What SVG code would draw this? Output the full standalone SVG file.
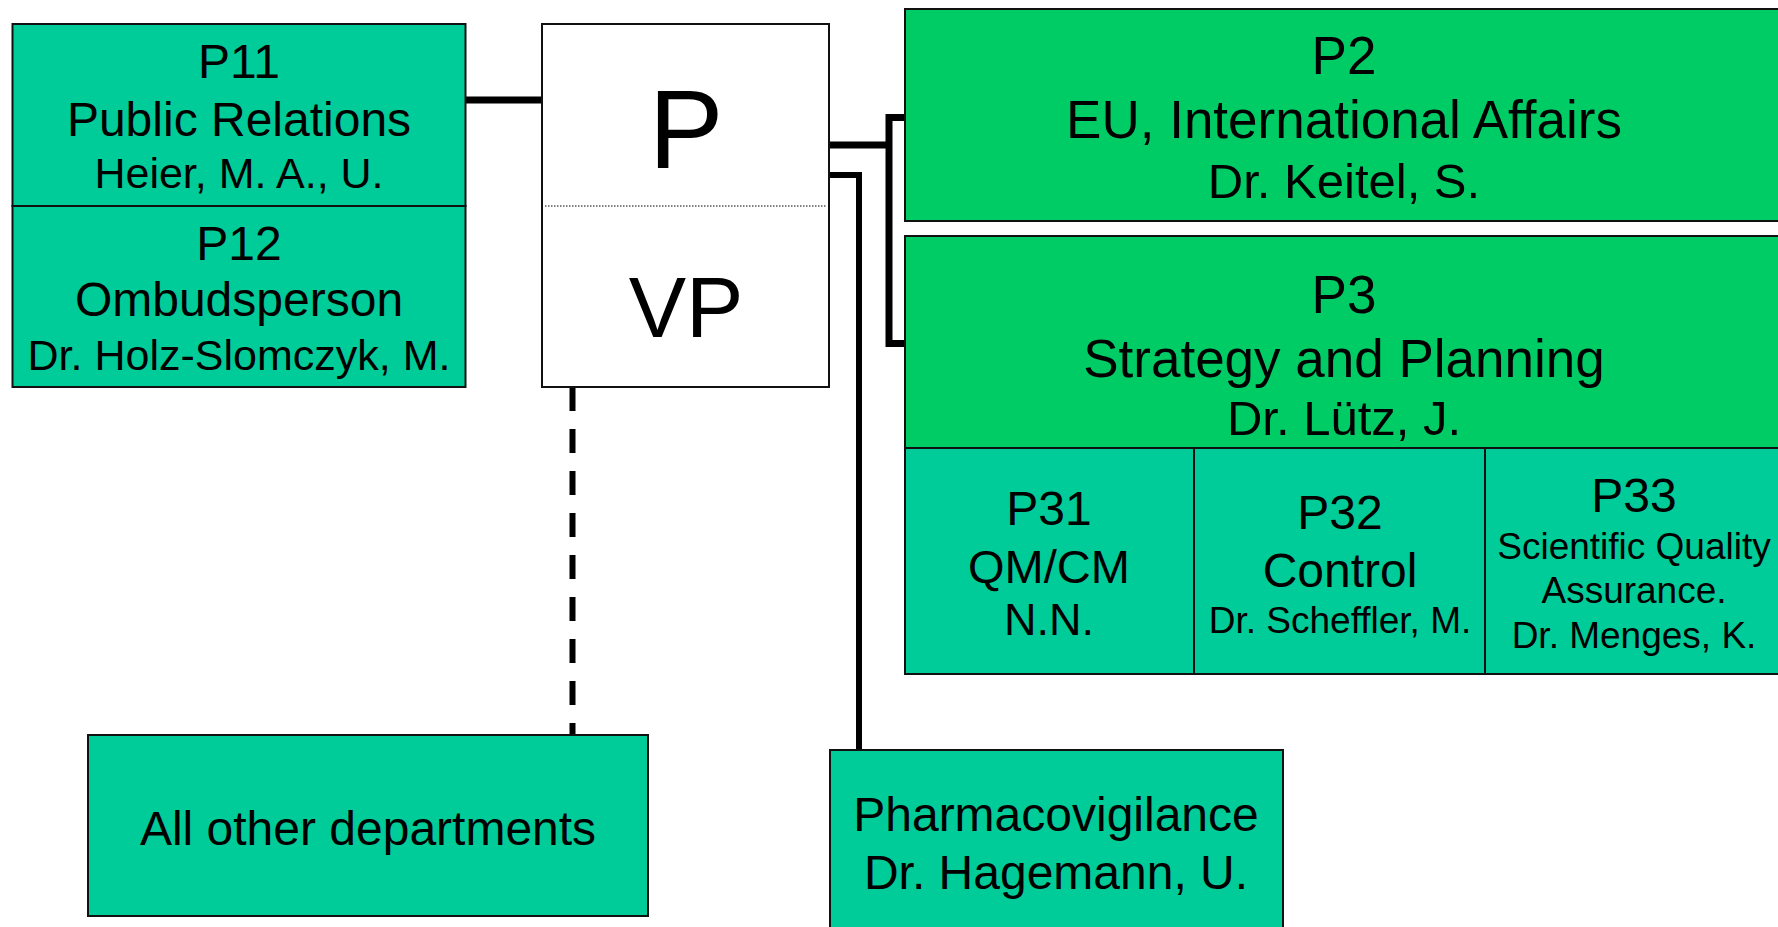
<svg xmlns="http://www.w3.org/2000/svg" width="1778" height="927" viewBox="0 0 1778 927">
<style>
  text { font-family: "Liberation Sans", Arial, sans-serif; fill: #000; text-anchor: middle; }
  .teal { fill: #00CC99; stroke: #111; stroke-width: 2; }
  .green { fill: #00CC66; stroke: #111; stroke-width: 2; }
  .white { fill: #FFFFFF; stroke: #111; stroke-width: 2; }
  .conn { fill: none; stroke: #000; stroke-linejoin: miter; stroke-linecap: butt; }
</style>
<rect width="1778" height="927" fill="#FFFFFF"/>
<g id="connectors">
  <path class="conn" d="M465,100 H542" stroke-width="7"/>
  <path class="conn" d="M829,145 H889" stroke-width="7"/>
  <path class="conn" d="M906,117.5 H889 V343.5 H906" stroke-width="7"/>
  <path class="conn" d="M829,175 H859 V750" stroke-width="6"/>
  <path class="conn" d="M572.5,387 V735" stroke-width="6" stroke-dasharray="24 18"/>
</g>
<g id="P11">
  <rect class="teal" x="12.5" y="24" width="453" height="182"/>
  <text x="239" y="78" font-size="48">P11</text>
  <text x="239" y="136" font-size="48">Public Relations</text>
  <text x="239" y="188" font-size="43">Heier, M. A., U.</text>
</g>
<g id="P12">
  <rect class="teal" x="12.5" y="206" width="453" height="181"/>
  <text x="239" y="260" font-size="48">P12</text>
  <text x="239" y="316" font-size="48">Ombudsperson</text>
  <text x="239" y="370" font-size="43">Dr. Holz-Slomczyk, M.</text>
</g>
<g id="P-VP">
  <rect class="white" x="542" y="24" width="287" height="363"/>
  <line x1="545" y1="206" x2="827" y2="206" stroke="#000" stroke-width="1" stroke-dasharray="1.5 1.5"/>
  <text x="686" y="168" font-size="112">P</text>
  <text x="686" y="337" font-size="86">VP</text>
</g>
<g id="P2">
  <rect class="green" x="905" y="9" width="890" height="212"/>
  <text x="1344" y="74" font-size="53">P2</text>
  <text x="1344" y="138" font-size="53">EU, International Affairs</text>
  <text x="1344" y="198" font-size="49">Dr. Keitel, S.</text>
</g>
<g id="P3">
  <rect class="green" x="905" y="236" width="890" height="212"/>
  <text x="1344" y="313" font-size="53">P3</text>
  <text x="1344" y="377" font-size="53">Strategy and Planning</text>
  <text x="1344" y="435" font-size="49">Dr. Lütz, J.</text>
</g>
<g id="P31">
  <rect class="teal" x="905" y="448" width="289" height="226"/>
  <text x="1049" y="525" font-size="48">P31</text>
  <text x="1049" y="583" font-size="47">QM/CM</text>
  <text x="1049" y="635" font-size="45">N.N.</text>
</g>
<g id="P32">
  <rect class="teal" x="1194" y="448" width="291" height="226"/>
  <text x="1340" y="529" font-size="48">P32</text>
  <text x="1340" y="587" font-size="48">Control</text>
  <text x="1340" y="633" font-size="37">Dr. Scheffler, M.</text>
</g>
<g id="P33">
  <rect class="teal" x="1485" y="448" width="310" height="226"/>
  <text x="1634" y="512" font-size="48">P33</text>
  <text x="1634" y="559" font-size="37">Scientific Quality</text>
  <text x="1634" y="603" font-size="37">Assurance.</text>
  <text x="1634" y="648" font-size="37">Dr. Menges, K.</text>
</g>
<g id="AllOther">
  <rect class="teal" x="88" y="735" width="560" height="181"/>
  <text x="368" y="845" font-size="48">All other departments</text>
</g>
<g id="Pharmacovigilance">
  <rect class="teal" x="830" y="750" width="453" height="200"/>
  <text x="1056" y="831" font-size="48">Pharmacovigilance</text>
  <text x="1056" y="889" font-size="48">Dr. Hagemann, U.</text>
</g>
</svg>
